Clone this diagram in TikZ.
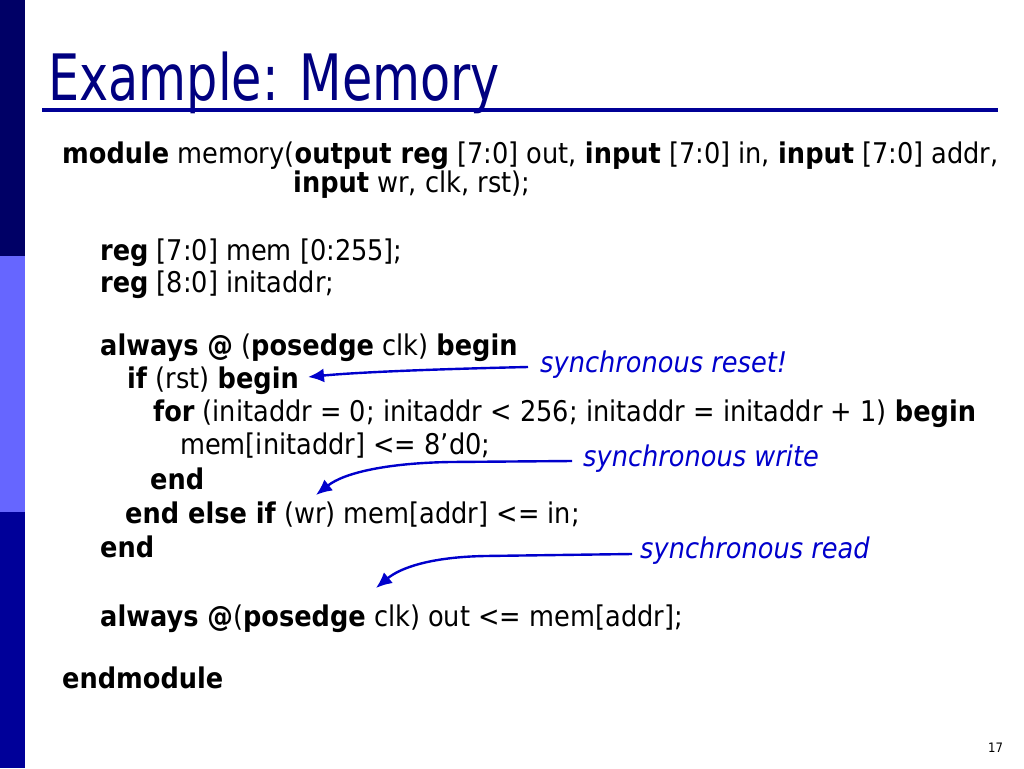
\documentclass[tikz,border=0pt]{standalone}
\usepackage{fontspec}
\setmainfont{DejaVu Sans}[FakeStretch=0.9]
\newfontfamily\titlefont{DejaVu Sans}[FakeStretch=0.77]
\usetikzlibrary{arrows.meta}
\definecolor{bartop}{RGB}{0,0,102}
\definecolor{barmid}{RGB}{102,102,255}
\definecolor{barbot}{RGB}{0,0,153}
\definecolor{titleblue}{RGB}{0,0,128}
\definecolor{ruleblue}{RGB}{0,0,150}
\definecolor{noteblue}{RGB}{0,0,204}
\begin{document}
\begin{tikzpicture}[x=1pt,y=-1pt,
  code/.style={anchor=base west, inner sep=0pt, font=\fontsize{28.5}{32}\selectfont},
  note/.style={anchor=base west, inner sep=0pt, text=noteblue, font=\fontsize{28.5}{32}\selectfont\itshape},
  callout/.style={draw=noteblue, line width=2.4pt, -{Latex[length=16pt,width=14pt]}}]
\useasboundingbox (0,0) rectangle (1024,768);
\fill[white] (0,0) rectangle (1024,768);
% left bar
\fill[bartop] (0,0) rectangle (25,256);
\fill[barmid] (0,256) rectangle (25,512);
\fill[barbot] (0,512) rectangle (25,768);
% title
\node[anchor=base west, inner sep=0pt, text=titleblue, font=\titlefont\fontsize{64}{66}\selectfont] (title) at (48,100) {Example: Memory};
\draw[ruleblue, line width=3.5pt] (42,110) -- (998,110);
% code
\node[code] (l1) at (62,163) {\textbf{module} memory(\textbf{output reg} [7:0] out, \textbf{input} [7:0] in, \textbf{input} [7:0] addr,};
\node[code] (l2) at (293,192) {\textbf{input} wr, clk, rst);};
\node[code] (l3) at (100,260) {\textbf{reg} [7:0] mem [0:255];};
\node[code] (l4) at (100,292) {\textbf{reg} [8:0] initaddr;};
\node[code] (l5) at (100,355) {\textbf{always @} (\textbf{posedge} clk) \textbf{begin}};
\node[code] (l6) at (127,388) {\textbf{if} (rst) \textbf{begin}};
\node[code] (l7) at (153,421) {\textbf{for} (initaddr = 0; initaddr < 256; initaddr = initaddr + 1) \textbf{begin}};
\node[code] (l8) at (180,454) {mem[initaddr] <= 8’d0;};
\node[code] (l9) at (150,489) {\textbf{end}};
\node[code] (l10) at (125,523) {\textbf{end else if} (wr) mem[addr] <= in;};
\node[code] (l11) at (100,557) {\textbf{end}};
\node[code] (l12) at (100,626) {\textbf{always @}(\textbf{posedge} clk) out <= mem[addr];};
\node[code] (l13) at (62,688) {\textbf{endmodule}};
% notes
\node[note] (n1) at (540,372) {synchronous reset!};
\node[note] (n2) at (583,466) {synchronous write};
\node[note] (n3) at (640,558) {synchronous read};
% arrow endpoints
\coordinate (a1s) at (528,367);
\coordinate (a1e) at (308,377);
\coordinate (a2s) at (572,461);
\coordinate (a2m) at (450,462);
\coordinate (a2e) at (316,495);
\coordinate (a3s) at (632,554);
\coordinate (a3m) at (485,556);
\coordinate (a3e) at (376,588);
\draw[callout] (a1s) .. controls (440,369) and (360,372) .. (a1e);
\draw[callout] (a2s) -- (a2m) .. controls (390,463) and (345,472) .. (a2e);
\draw[callout] (a3s) -- (a3m) .. controls (430,557) and (400,568) .. (a3e);
% page number
\node[anchor=base west, inner sep=0pt, font=\fontsize{13}{15}\selectfont] (pg) at (988,752) {17};
\end{tikzpicture}
\end{document}
